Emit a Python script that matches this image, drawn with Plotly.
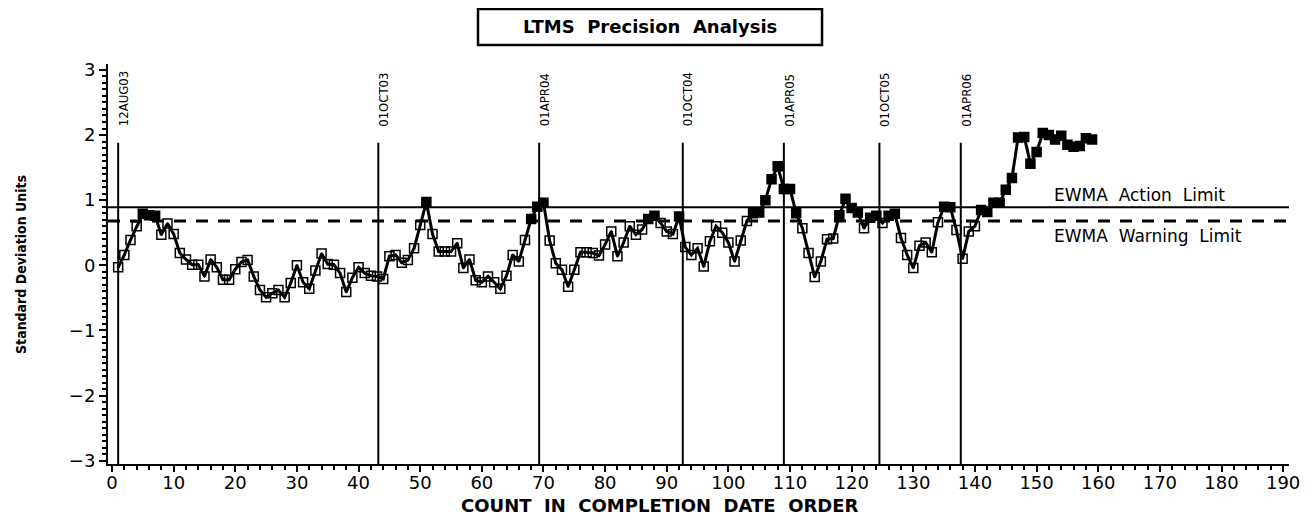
import plotly.graph_objects as go

# EWMA values in standard deviation units, by count in completion date order
ewma = [
    -0.03, 0.16, 0.39, 0.60, 0.79, 0.77, 0.76, 0.47, 0.64, 0.48,
    0.19, 0.09, 0.01, 0.01, -0.17, 0.09, -0.03, -0.22, -0.22, -0.06,
    0.05, 0.08, -0.17, -0.38, -0.49, -0.43, -0.38, -0.49, -0.27, 0.00,
    -0.26, -0.36, -0.08, 0.18, 0.02, 0.01, -0.12, -0.41, -0.19, -0.03,
    -0.12, -0.16, -0.17, -0.21, 0.14, 0.16, 0.04, 0.08, 0.26, 0.62,
    0.97, 0.48, 0.21, 0.21, 0.21, 0.34, -0.04, 0.09, -0.23, -0.26,
    -0.17, -0.26, -0.36, -0.16, 0.16, 0.06, 0.39, 0.71, 0.90, 0.96,
    0.38, 0.03, -0.07, -0.33, -0.07, 0.20, 0.20, 0.19, 0.15, 0.32,
    0.52, 0.14, 0.35, 0.60, 0.47, 0.55, 0.71, 0.76, 0.65, 0.52,
    0.48, 0.75, 0.28, 0.16, 0.26, -0.02, 0.37, 0.60, 0.50, 0.35,
    0.06, 0.38, 0.68, 0.80, 0.81, 1.00, 1.32, 1.52, 1.17, 1.17,
    0.80, 0.57, 0.19, -0.18, 0.06, 0.40, 0.41, 0.77, 1.02, 0.88,
    0.81, 0.57, 0.73, 0.76, 0.65, 0.76, 0.79, 0.42, 0.16, -0.04,
    0.30, 0.35, 0.20, 0.66, 0.90, 0.89, 0.54, 0.10, 0.52, 0.60,
    0.85, 0.82, 0.96, 0.96, 1.16, 1.34, 1.96, 1.97, 1.56, 1.74,
    2.03, 2.00, 1.93, 1.99, 1.85, 1.82, 1.83, 1.95, 1.93,
]
counts = list(range(1, len(ewma) + 1))

# date reference lines (position in count order)
date_labels = ["12AUG03", "01OCT03", "01APR04", "01OCT04", "01APR05", "01OCT05", "01APR06"]
date_counts = [1.0, 43.2, 69.3, 92.6, 109.0, 124.5, 137.7]

action_limit = 0.89
warning_limit = 0.68

x_ticks = list(range(0, 200, 10))
y_ticks = [-3, -2, -1, 0, 1, 2, 3]
y_tick_text = ["\u22123", "\u22122", "\u22121", "0", "1", "2", "3"]

NARROW = "DejaVu Sans Condensed, Liberation Sans, sans-serif"
tick_font = dict(family="DejaVu Sans", size=18, color="black")

symbols = ["square" if v > warning_limit else "square-open-dot" for v in ewma]

fig = go.Figure()
fig.add_trace(
    go.Scatter(
        x=counts,
        y=ewma,
        mode="lines+markers",
        line=dict(color="black", width=3),
        marker=dict(symbol=symbols, size=9, color="black", line=dict(color="black", width=1.5)),
        showlegend=False,
        hoverinfo="x+y",
    )
)

# limits
fig.add_shape(type="line", xref="x", yref="y", x0=-0.65, x1=190.95,
              y0=action_limit, y1=action_limit, line=dict(color="black", width=2))
fig.add_shape(type="line", xref="x", yref="y", x0=-0.65, x1=190.95,
              y0=warning_limit, y1=warning_limit, line=dict(color="black", width=3, dash="12px,10px"))
fig.add_annotation(x=152.5, y=action_limit, xref="x", yref="y", text="EWMA  Action  Limit",
                   showarrow=False, xanchor="left", yanchor="bottom", yshift=0,
                   font=dict(family="DejaVu Sans", size=17, color="black"))
fig.add_annotation(x=152.5, y=warning_limit, xref="x", yref="y", text="EWMA  Warning  Limit",
                   showarrow=False, xanchor="left", yanchor="top", yshift=-3,
                   font=dict(family="DejaVu Sans", size=17, color="black"))

# date markers
for lab, c in zip(date_labels, date_counts):
    fig.add_shape(type="line", xref="x", yref="y", x0=c, x1=c, y0=-3.05, y1=1.88,
                  line=dict(color="black", width=2))
    fig.add_annotation(x=c, y=2.1, xref="x", yref="y", text=lab, textangle=-90,
                       showarrow=False, xanchor="center", yanchor="bottom", xshift=5,
                       font=dict(family=NARROW, size=13, color="black"))

# title box
fig.add_shape(type="rect", xref="paper", yref="paper",
              x0=0.3133, x1=0.6046, y0=1.0475, y1=1.1375,
              line=dict(color="black", width=2.5))
fig.add_annotation(x=0.459, y=1.093, xref="paper", yref="paper",
                   xanchor="center", yanchor="middle",
                   text="<b>LTMS  Precision  Analysis</b>", showarrow=False,
                   font=dict(family="DejaVu Sans", size=18, color="black"))

# axis titles
fig.add_annotation(x=0.4674, y=-0.1025, xref="paper", yref="paper",
                   xanchor="center", yanchor="middle",
                   text="<b>COUNT  IN  COMPLETION  DATE  ORDER</b>", showarrow=False,
                   font=dict(family="DejaVu Sans", size=18, color="black"))
fig.add_annotation(x=-0.0737, y=0.5, xref="paper", yref="paper",
                   xanchor="center", yanchor="middle",
                   text="<b>Standard Deviation Units</b>", textangle=-90, showarrow=False,
                   font=dict(family=NARROW, size=14, color="black"))

fig.update_layout(
    width=1313,
    height=523,
    margin=dict(l=100, r=32, t=56, b=67),
    paper_bgcolor="white",
    plot_bgcolor="white",
    showlegend=False,
    xaxis=dict(
        range=[-0.65, 190.95],
        tickvals=x_ticks,
        ticks="outside",
        ticklen=6,
        tickwidth=2,
        tickcolor="black",
        ticklabelstandoff=-5,
        minor=dict(dtick=2, tick0=0, ticks="outside", ticklen=4, tickwidth=2, tickcolor="black"),
        showgrid=False,
        zeroline=False,
        showline=True,
        linecolor="black",
        linewidth=2,
        tickfont=tick_font,
    ),
    yaxis=dict(
        range=[-3.05, 3.09],
        tickvals=y_ticks,
        ticktext=y_tick_text,
        ticks="outside",
        ticklen=7,
        tickwidth=2,
        tickcolor="black",
        minor=dict(dtick=0.1, tick0=0, ticks="outside", ticklen=4, tickwidth=1.5, tickcolor="black"),
        showgrid=False,
        zeroline=False,
        showline=True,
        linecolor="black",
        linewidth=2,
        tickfont=tick_font,
    ),
)

fig.write_html("out.html")
